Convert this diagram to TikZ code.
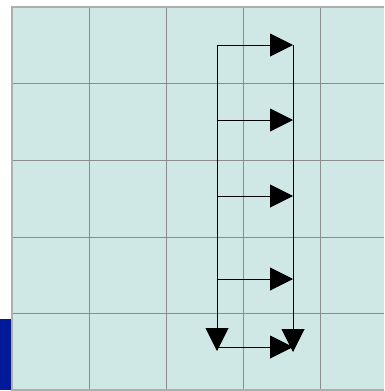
\documentclass[tikz,border=0pt]{standalone}
\usetikzlibrary{arrows.meta}
\definecolor{cellfill}{HTML}{D0E8E5}
\definecolor{gridgray}{HTML}{8C8C8C}
\definecolor{bandblue}{HTML}{001A99}
\tikzset{
  conn/.style={draw=black, line width=1pt, -{Triangle[length=23pt,width=23pt]}},
  plain/.style={draw=black, line width=1pt},
}
\begin{document}
\begin{tikzpicture}[x=1pt,y=-1pt]
\useasboundingbox (0,0) rectangle (384,391);
% blue band
\fill[bandblue] (0,319) rectangle (12,390);
% grid background
\fill[cellfill] (12,7) rectangle (384,390);
\foreach \x in {89,166,243,320} \draw[gridgray, line width=1pt] (\x,7) -- (\x,390);
\foreach \y in {83.5,160,237,313.5} \draw[gridgray, line width=1pt] (12,\y) -- (384,\y);
\draw[gridgray!70, line width=1.4pt] (384,7) -- (12,7) -- (12,390) -- (384,390);
% coordinates
\coordinate (L1) at (217,45);  \coordinate (R1) at (293,45);
\coordinate (L2) at (217,120); \coordinate (R2) at (293,120);
\coordinate (L3) at (217,196); \coordinate (R3) at (293,196);
\coordinate (L4) at (217,279); \coordinate (R4) at (293,279);
\coordinate (L5) at (217,347); \coordinate (R5) at (293,347);
\coordinate (LB) at (217,351); \coordinate (RB) at (293,352);
% connectors
\draw[conn] (L1) -- (LB);
\draw[plain] (R1) -- (R4);
\draw[conn] (R4) -- (RB);
\draw[conn] (L1) -- (R1);
\draw[conn] (L2) -- (R2);
\draw[conn] (L3) -- (R3);
\draw[conn] (L4) -- (R4);
\draw[conn] (L5) -- (R5);
\end{tikzpicture}
\end{document}
